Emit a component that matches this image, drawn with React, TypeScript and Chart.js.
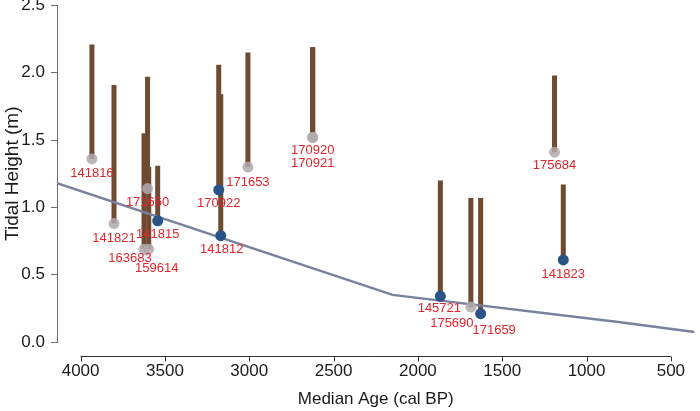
import React, { useEffect, useRef } from 'react';
import { Chart, registerables } from 'chart.js';

Chart.register(...registerables);

// ---------- data ----------
const sampleIds = ['141816', '141821', '171660', '163683', '159614', '141815', '170922', '141812', '171653', '170920', '170921', '145721', '175690', '171659', '141823', '175684'];
const medianAges = [3933, 3802, 3603, 3624, 3596, 3543, 3181, 3169, 3008, 2624, 2624, 1867, 1686, 1628, 1138, 1190];
const lowerHeights = [1.36, 0.88, 1.14, 0.69, 0.69, 0.90, 1.13, 0.79, 1.30, 1.52, 1.52, 0.34, 0.26, 0.21, 0.61, 1.41];
const upperHeights = [2.21, 1.91, 1.97, 1.55, 1.30, 1.31, 2.06, 1.84, 2.15, 2.19, 2.19, 1.20, 1.07, 1.07, 1.17, 1.98];
const markerGroup = ['grey', 'grey', 'grey', 'grey', 'grey', 'blue', 'blue', 'blue', 'grey', 'grey', 'grey', 'blue', 'grey', 'blue', 'blue', 'grey'];

const trendAges = [4140, 2150, 800, 360];
const trendHeights = [1.18, 0.35, 0.147, 0.075];

const xTickValues = [4000, 3500, 3000, 2500, 2000, 1500, 1000, 500];
const yTickValues = [0, 0.5, 1.0, 1.5, 2.0, 2.5];

// label nudges in pixels (dx, dy from the marker centre)
const labelDx = [0, 0, 0, -14, 8, 0, 0, 1, 0, 0, 0, -1, -19, 13.5, 0, 0];
const labelDy = [14, 14.7, 13.7, 9.7, 19.7, 13.7, 13.7, 14, 15, 13.3, 25.6, 12.6, 16.7, 16.7, 15, 13.3];

// ---------- styles ----------
const FONT = "'Liberation Sans', Arial, Helvetica, sans-serif";
const BROWN = '#6d4a30';
const BLUE = '#2a5286';
const GREY = 'rgba(178,170,174,0.85)';
const RED = '#e3242b';
const TREND = '#7a819f';

const customDraw = {
  id: 'customDraw',
  afterDraw(chart: any) {
    const { ctx, chartArea } = chart;
    const xs = chart.scales.x;
    const ys = chart.scales.y;
    ctx.save();
    // detached x axis (R style)
    const yLine = Math.round(chartArea.bottom + 13.7) + 0.5;
    ctx.strokeStyle = '#333';
    ctx.lineWidth = 1;
    ctx.beginPath();
    const x0 = xs.getPixelForValue(xTickValues[0]);
    const x1 = xs.getPixelForValue(xTickValues[xTickValues.length - 1]);
    ctx.moveTo(x0, yLine);
    ctx.lineTo(x1, yLine);
    xTickValues.forEach((v) => {
      const px = Math.round(xs.getPixelForValue(v)) + 0.5;
      ctx.moveTo(px, yLine);
      ctx.lineTo(px, yLine + 5);
    });
    ctx.stroke();

    // sample labels
    ctx.fillStyle = RED;
    ctx.font = `13px ${FONT}`;
    ctx.textAlign = 'center';
    ctx.textBaseline = 'middle';
    sampleIds.forEach((id, i) => {
      const px = xs.getPixelForValue(medianAges[i]);
      const py = ys.getPixelForValue(lowerHeights[i]);
      ctx.fillText(id, px + labelDx[i], py + labelDy[i]);
    });
    ctx.restore();
  },
};

export default function App() {
  const canvasRef = useRef<HTMLCanvasElement | null>(null);

  useEffect(() => {
    if (!canvasRef.current) return;

    const barSets = sampleIds.map((id, i) => ({
      type: 'line' as const,
      label: 'range ' + id,
      data: [
        { x: medianAges[i], y: lowerHeights[i] },
        { x: medianAges[i], y: upperHeights[i] },
      ],
      borderColor: BROWN,
      borderWidth: 5,
      borderCapStyle: 'butt' as const,
      pointRadius: 0,
      showLine: true,
      fill: false,
      order: 3,
    }));

    const pointSet = (group: string, color: string) => ({
      type: 'scatter' as const,
      label: group,
      data: sampleIds
        .map((_, i) => ({ x: medianAges[i], y: lowerHeights[i], g: markerGroup[i] }))
        .filter((d) => d.g === group)
        .map((d) => ({ x: d.x, y: d.y })),
      backgroundColor: color,
      borderWidth: 0,
      pointRadius: 5.5,
      showLine: false,
      order: 1,
    });

    const trendSet = {
      type: 'line' as const,
      label: 'trend',
      data: trendAges.map((a, i) => ({ x: a, y: trendHeights[i] })),
      borderColor: TREND,
      borderWidth: 2.5,
      pointRadius: 0,
      tension: 0,
      fill: false,
      order: 2,
    };

    const chart = new Chart(canvasRef.current, {
      type: 'scatter',
      data: {
        datasets: [...barSets, trendSet, pointSet('grey', GREY), pointSet('blue', BLUE)] as any,
      },
      plugins: [customDraw],
      options: {
        animation: false,
        responsive: false,
        layout: { padding: { top: 5, left: 0, right: 0, bottom: 0 } },
        plugins: { legend: { display: false }, tooltip: { enabled: false } },
        scales: {
          x: {
            type: 'linear',
            reverse: true,
            min: 360,
            max: 4140,
            afterBuildTicks: (s: any) => {
              s.ticks = xTickValues.map((v) => ({ value: v }));
            },
            afterFit: (s: any) => {
              s.height = 69;
              s.paddingLeft = 0;
              s.paddingRight = 0;
            },
            grid: { display: false, drawTicks: false },
            border: { display: false },
            ticks: {
              padding: 19,
              maxRotation: 0,
              autoSkip: false,
              color: '#1a1a1a',
              font: { family: FONT, size: 17 },
              callback: (v: any) => String(v),
            },
            title: {
              display: true,
              text: 'Median Age (cal BP)',
              color: '#1a1a1a',
              font: { family: FONT, size: 17 },
              padding: { top: 0, bottom: 1 },
            },
          },
          y: {
            type: 'linear',
            min: 0,
            max: 2.5,
            afterBuildTicks: (s: any) => {
              s.ticks = yTickValues.map((v) => ({ value: v }));
            },
            afterFit: (s: any) => {
              s.width = 57;
              s.paddingTop = 0;
              s.paddingBottom = 0;
            },
            grid: { drawOnChartArea: false, drawTicks: true, tickLength: 6, color: '#6e6e6e', lineWidth: 1 },
            border: { display: true, color: '#6e6e6e', width: 1 },
            ticks: {
              padding: 6,
              color: '#1a1a1a',
              font: { family: FONT, size: 17 },
              callback: (v: any) => Number(v).toFixed(1),
            },
            title: {
              display: true,
              text: 'Tidal Height (m)',
              color: '#1a1a1a',
              font: { family: FONT, size: 19 },
              padding: { top: 1, bottom: 0 },
            },
          },
        },
      } as any,
    });

    return () => chart.destroy();
  }, []);

  return (
    <div style={{ position: 'fixed', left: 0, top: 0, width: 700, height: 411, background: '#fff' }}>
      <canvas ref={canvasRef} width={700} height={411} style={{ display: 'block' }} />
    </div>
  );
}
